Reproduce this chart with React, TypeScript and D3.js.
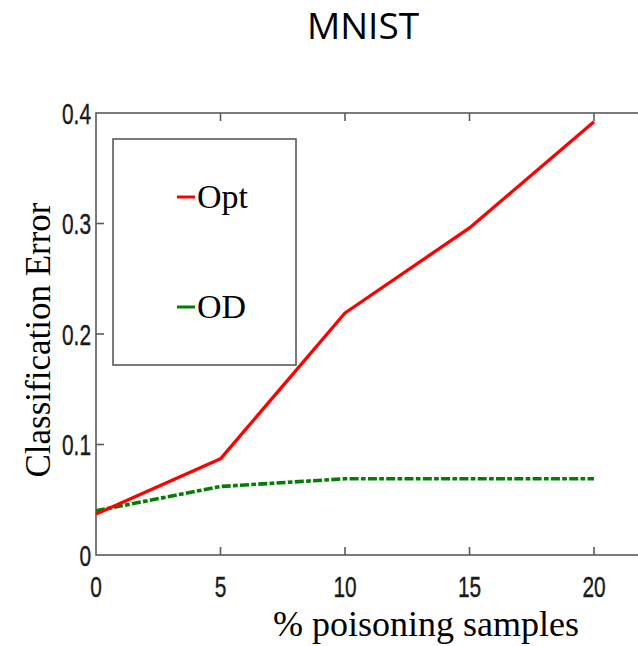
import React from "react";
import * as d3 from "d3";

const samples = [0, 5, 10, 15, 20];
const optErr = [0.037, 0.087, 0.219, 0.296, 0.392];
const odErr = [0.04, 0.062, 0.069, 0.069, 0.069];
const xTicks = [0, 5, 10, 15, 20];
const yTicks = [0, 0.1, 0.2, 0.3, 0.4];
const seriesNames = ["Opt", "OD"];
const title = "MNIST";
const xLabel = "% poisoning samples";
const yLabel = "Classification Error";

export default function App() {
  const W = 638, H = 646;
  const x = d3.scaleLinear().domain([0, 20]).range([96, 594]);
  const y = d3.scaleLinear().domain([0, 0.4]).range([555, 113]);
  const line = d3.line<number>().x((_, i) => x(samples[i])).y((d) => y(d));
  const axisColor = "#5a5a5a";
  const tickFont = "'Liberation Sans', Arial, sans-serif";
  const serif = "'Liberation Serif', 'Times New Roman', serif";
  const x0 = x(0), xR = x(25), yT = y(0.4), yB = y(0);
  return (
    <svg width={W} height={H} style={{ position: "absolute", left: 0, top: 0, background: "#fff" }}>
      <rect width={W} height={H} fill="#fff" />
      <text x={363} y={39} textAnchor="middle" fontFamily="'Open Sans', sans-serif" fontSize={37} fill="#000">
        {title}
      </text>
      <rect x={x0} y={yT} width={xR - x0} height={yB - yT} fill="none" stroke={axisColor} strokeWidth={1.6} />
      {xTicks.slice(1).map((t) => (
        <g key={"xt" + t}>
          <line x1={x(t)} x2={x(t)} y1={yB} y2={yB - 8} stroke={axisColor} strokeWidth={1.6} />
          <line x1={x(t)} x2={x(t)} y1={yT} y2={yT + 8} stroke={axisColor} strokeWidth={1.6} />
        </g>
      ))}
      {yTicks.slice(1, -1).map((t) => (
        <line key={"yt" + t} x1={x0} x2={x0 + 8} y1={y(t)} y2={y(t)} stroke={axisColor} strokeWidth={1.6} />
      ))}
      {xTicks.map((t) => (
        <text key={"xl" + t} transform={`translate(${x(t)},597) scale(0.72,1)`} textAnchor="middle"
          fontFamily={tickFont} fontSize={29} fill="#1a1a1a" stroke="#1a1a1a" strokeWidth={0.4}>
          {t}
        </text>
      ))}
      {yTicks.map((t) => (
        <text key={"yl" + t} transform={`translate(91,${y(t) + 10.5}) scale(0.72,1)`} textAnchor="end"
          fontFamily={tickFont} fontSize={29} fill="#1a1a1a" stroke="#1a1a1a" strokeWidth={0.4}>
          {t === 0 ? "0" : d3.format(".1f")(t)}
        </text>
      ))}
      <path d={line(odErr) || ""} fill="none" stroke="#008000" strokeWidth={3.6} strokeDasharray="9,2.3,4.7,2.3" />
      <path d={line(optErr) || ""} fill="none" stroke="#ff0000" strokeWidth={3.3} strokeLinejoin="round" />
      <rect x={113} y={139} width={183} height={226} fill="#fff" stroke={axisColor} strokeWidth={1.6} />
      <line x1={177} x2={195} y1={197} y2={197} stroke="#ff0000" strokeWidth={3} />
      <text x={197} y={208} fontFamily={serif} fontSize={34} fill="#000">{seriesNames[0]}</text>
      <line x1={177} x2={195} y1={307} y2={307} stroke="#008000" strokeWidth={3} />
      <text x={197} y={318} fontFamily={serif} fontSize={34} fill="#000">{seriesNames[1]}</text>
      <text x={426} y={636} textAnchor="middle" fontFamily={serif} fontSize={36} fill="#000">{xLabel}</text>
      <text transform="translate(50,340) rotate(-90)" textAnchor="middle" fontFamily={serif} fontSize={35} fill="#000">
        {yLabel}
      </text>
    </svg>
  );
}
